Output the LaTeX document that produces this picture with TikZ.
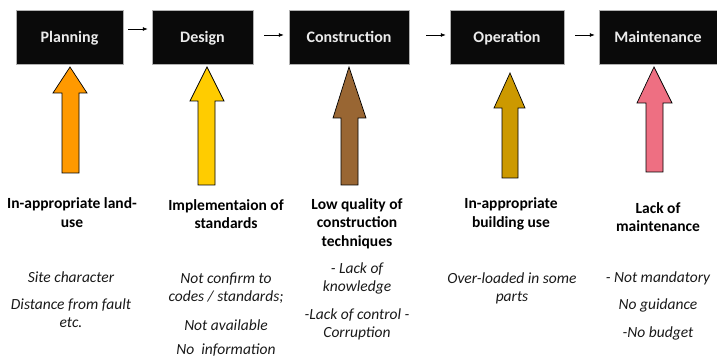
\documentclass[tikz,border=0pt]{standalone}
\usepackage{fontspec}
\setmainfont{Carlito}
\usetikzlibrary{arrows.meta,calc}
\definecolor{cOrange}{HTML}{FF9900}
\definecolor{cYellow}{HTML}{FFCC00}
\definecolor{cBrown}{HTML}{996633}
\definecolor{cGold}{HTML}{CC9900}
\definecolor{cPink}{HTML}{EE6F82}
\definecolor{boxblack}{HTML}{0A0A0A}
\tikzset{
  stagebox/.style={fill=boxblack, draw=gray!60, line width=0.5pt, text=white!92!black, font=\fontsize{16}{18}\selectfont\bfseries, inner sep=0pt, text height=13pt, text depth=1pt},
  flowarrow/.style={-{Latex[length=5pt,width=4pt]}, line width=0.7pt},
  blockarrow/.style={draw=black, line width=0.7pt, line join=miter},
  heading/.style={font=\fontsize{15.5}{18.5}\selectfont\bfseries, align=center, inner sep=0pt},
  note/.style={font=\fontsize{15.5}{18}\selectfont\itshape, align=center, inner sep=0pt, text=black!90}
}
\begin{document}
\begin{tikzpicture}[x=1pt,y=-1pt]
\useasboundingbox (0,0) rectangle (717,358);
% stage boxes
\node[stagebox, minimum width=107pt, minimum height=54pt] (plan) at (69.5,37) {Planning};
\node[stagebox, minimum width=101pt, minimum height=54pt] (design) at (202.5,37) {Design};
\node[stagebox, minimum width=120pt, minimum height=54pt] (constr) at (349,37) {Construction};
\node[stagebox, minimum width=114pt, minimum height=54pt] (oper) at (507,37) {Operation};
\node[stagebox, minimum width=118pt, minimum height=54pt] (maint) at (658,37) {Maintenance};
% flow arrows
\draw[flowarrow] ([xshift=5pt,yshift=8pt]plan.east) -- ([xshift=-4pt,yshift=8pt]design.west);
\draw[flowarrow] ([xshift=11pt,yshift=2pt]design.east) -- ([xshift=-5pt,yshift=2pt]constr.west);
\draw[flowarrow] ([xshift=17pt,yshift=2pt]constr.east) -- ([xshift=-4pt,yshift=2pt]oper.west);
\draw[flowarrow] ([xshift=11pt,yshift=2pt]oper.east) -- ([xshift=-4pt,yshift=2pt]maint.west);
% block arrows
\draw[blockarrow, fill=cOrange] (70,67) -- (87,93) -- (79,93) -- (79,173) -- (62,173) -- (62,93) -- (53,93) -- cycle;
\draw[blockarrow, fill=cYellow] (207,67) -- (224,101) -- (215,101) -- (215,185) -- (198,185) -- (198,101) -- (190,101) -- cycle;
\draw[blockarrow, fill=cBrown] (349,67) -- (366,118) -- (358,118) -- (358,185) -- (341,185) -- (341,118) -- (333,118) -- cycle;
\draw[blockarrow, fill=cGold] (510,73) -- (525,108) -- (518,108) -- (518,178) -- (502,178) -- (502,108) -- (494,108) -- cycle;
\draw[blockarrow, fill=cPink] (654,67) -- (672,103) -- (663,103) -- (663,172) -- (646,172) -- (646,103) -- (637,103) -- cycle;
% headings
\node[heading] (h1) at (72,212.5) {In-appropriate land-\\use};
\node[heading] (h2) at (226,214) {Implementaion of\\standards};
\node[heading] (h3) at (357,223.5) {Low quality of\\construction\\techniques};
\node[heading] (h4) at (511,214) {In-appropriate\\building use};
\node[heading] (h5) at (658,217) {Lack of\\maintenance};
% notes
\node[note] (n1a) at (71,277) {Site character};
\node[note] (n1b) at (71,313) {Distance from fault\\etc.};
\node[note] (n2a) at (226,288) {Not confirm to\\codes / standards;};
\node[note] (n2b) at (226,325) {Not available};
\node[note] (n2c) at (226,350) {No\ \ information};
\node[note] (n3a) at (357,278.5) {- Lack of\\knowledge};
\node[note] (n3b) at (357,324) {-Lack of control -\\Corruption};
\node[note] (n4a) at (512,288) {Over-loaded in some\\parts};
\node[note] (n5a) at (658,278) {- Not mandatory};
\node[note] (n5b) at (658,305) {No guidance};
\node[note] (n5c) at (658,333) {-No budget};
\end{tikzpicture}
\end{document}
